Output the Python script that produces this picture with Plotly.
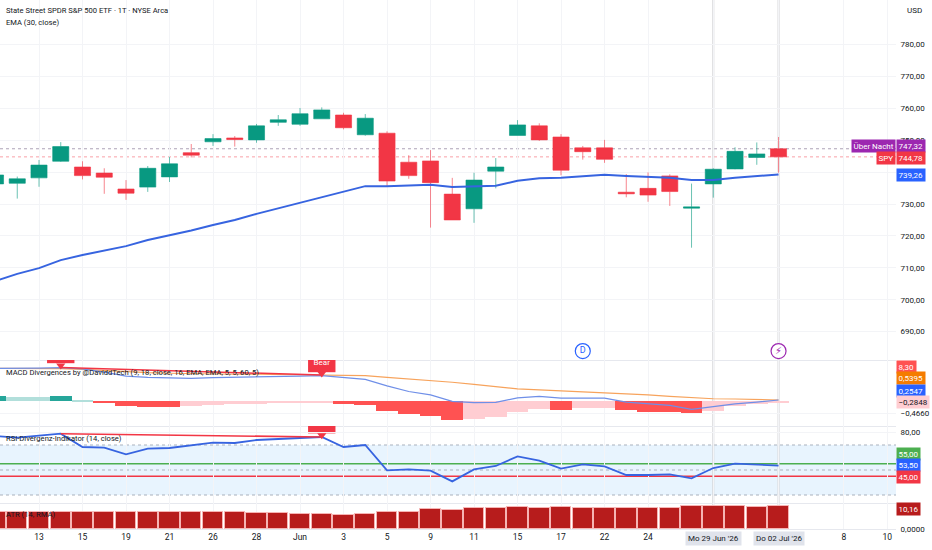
import plotly.graph_objects as go
from plotly.subplots import make_subplots

# trading day index, 0 = 13 May
bars = list(range(-2, 35))

opens = [736.3, 736.5, 738.2, 743.4, 741.6, 739.7, 734.7, 735.3, 738.5, 746.1, 749.5, 750.7, 750.1,
         755.6, 755.0, 756.7, 757.9, 751.7, 752.2, 743.1, 743.5, 733.1, 728.5, 740.3, 751.5, 754.5,
         751.0, 747.6, 747.6, 733.7, 734.9, 738.8, 728.7, 736.3, 741.0, 744.6, 747.32]
highs = [740.0, 738.6, 743.8, 749.4, 743.4, 741.2, 737.5, 741.9, 744.8, 748.8, 751.9, 751.3, 755.1,
         757.9, 760.1, 760.3, 758.6, 758.2, 752.8, 745.3, 746.9, 738.2, 739.8, 744.4, 756.3, 755.3,
         751.9, 748.2, 750.1, 739.4, 739.9, 739.3, 736.4, 741.2, 747.8, 749.3, 751.0]
lows = [735.4, 731.7, 735.4, 743.2, 737.7, 733.2, 731.3, 733.8, 736.9, 744.6, 748.2, 748.0, 749.2,
        754.5, 754.5, 756.7, 753.4, 751.4, 735.4, 737.9, 722.6, 725.0, 724.1, 734.9, 751.5, 749.8,
        739.0, 743.9, 742.9, 732.1, 730.7, 729.4, 716.3, 732.0, 740.9, 742.3, 739.8]
closes = [739.1, 737.9, 742.2, 748.0, 738.9, 738.4, 733.4, 741.2, 742.6, 745.3, 750.5, 750.2, 754.5,
          756.4, 758.3, 759.5, 753.9, 756.9, 737.2, 738.9, 736.7, 725.0, 737.5, 741.6, 754.8, 750.1,
          740.6, 746.4, 744.0, 733.2, 732.8, 733.9, 729.1, 740.9, 746.5, 745.7, 744.78]
ema_30 = [705.9, 708.1, 709.9, 712.4, 714.0, 715.3, 716.8, 718.7, 720.1, 721.7, 723.4, 725.0, 726.9,
          728.6, 730.3, 732.2, 733.8, 735.6, 735.6, 735.8, 736.0, 735.3, 735.6, 735.7, 737.3, 738.1,
          738.2, 738.8, 739.2, 738.8, 738.4, 738.2, 737.5, 737.5, 738.2, 738.7, 739.26]

macd_hist = [0.21, 0.18, 0.17, 0.19, 0.07, -0.06, -0.18, -0.21, -0.22, -0.19, -0.14, -0.12, -0.09,
             -0.06, -0.05, -0.04, -0.10, -0.13, -0.38, -0.48, -0.58, -0.73, -0.69, -0.59, -0.41, -0.30,
             -0.32, -0.27, -0.26, -0.35, -0.40, -0.41, -0.45, -0.36, -0.19, -0.10, -0.04]
macd_line = [1.28, 1.28, 1.29, 1.31, 1.26, 1.13, 0.98, 0.93, 0.91, 0.89, 0.92, 0.93, 0.96,
             0.96, 0.98, 1.00, 0.93, 0.85, 0.60, 0.38, 0.25, 0.0, -0.05, -0.04, 0.13, 0.19,
             0.12, 0.12, 0.12, -0.03, -0.10, -0.16, -0.31, -0.21, -0.10, -0.03, 0.05]
macd_signal = [1.28, 1.28, 1.28, 1.27, 1.24, 1.19, 1.14, 1.11, 1.09, 1.07, 1.06, 1.05, 1.05,
               1.04, 1.04, 1.04, 1.02, 1.00, 0.93, 0.87, 0.82, 0.74, 0.66, 0.56, 0.48, 0.44,
               0.40, 0.36, 0.34, 0.29, 0.25, 0.19, 0.14, 0.10, 0.09, 0.06, 0.05]

rsi = [77.2, 75.9, 77.5, 79.1, 68.4, 67.9, 62.5, 67.1, 67.6, 69.5, 71.9, 71.6, 74.0,
       74.8, 75.9, 76.4, 68.4, 70.0, 49.7, 50.5, 49.5, 40.9, 50.5, 53.2, 60.9, 57.5,
       51.1, 54.5, 52.9, 46.0, 46.0, 46.5, 43.3, 51.6, 55.1, 54.5, 53.5]

atr = [7.62, 7.62, 7.62, 7.62, 7.62, 7.62, 7.62, 7.62, 7.62, 7.62, 7.62, 7.47, 7.17,
       7.03, 6.73, 6.73, 6.43, 6.88, 7.62, 7.62, 8.82, 8.67, 9.42, 9.27, 9.72, 9.42,
       9.87, 9.27, 9.42, 9.42, 9.42, 9.42, 10.16, 10.46, 10.16, 9.72, 10.16]

# bear divergence runs from pivot to pivot
div_pivots = [1, 13]
macd_pivot_vals = [1.31, 1.02]
rsi_pivot_vals = [79.1, 76.4]

price_ticks = [690, 700, 710, 720, 730, 740, 750, 760, 770, 780]
tick_days = [0, 2, 4, 6, 8, 10, 12, 14, 16, 18, 20, 22, 24, 26, 28, 31, 34, 37, 39]
tick_labels = ['13', '15', '19', '21', '26', '28', 'Jun', '3', '5', '9', '11', '15', '17', '22', '24',
               '', '', '8', '10']
cursor_days = [31, 34]
cursor_labels = ["Mo 29 Jun '26", "Do 02 Jul '26"]

overnight_price = 747.32
rsi_bands = [70, 50, 30]

GREEN = '#089981'
RED = '#f23645'
BLUE = '#2962ff'
GRID = '#f3f4f7'
TEXT = '#131722'
FONT = 'Roboto'

WIDTH, HEIGHT = 932, 550
PLOT_H = 529

fig = make_subplots(rows=4, cols=1, shared_xaxes=True, vertical_spacing=0,
                    row_heights=[360, 66, 77, 26])

# price pane
fig.add_trace(go.Candlestick(x=bars, open=opens, high=highs, low=lows, close=closes,
                             increasing=dict(line=dict(color='rgba(8,153,129,0.6)', width=1), fillcolor=GREEN),
                             decreasing=dict(line=dict(color='rgba(242,54,69,0.6)', width=1), fillcolor=RED),
                             whiskerwidth=0), row=1, col=1)
fig.add_trace(go.Scatter(x=bars, y=ema_30, mode='lines', line=dict(color='#3764e0', width=2)),
              row=1, col=1)
fig.add_hline(y=overnight_price, line=dict(color='rgba(110,90,125,0.7)', width=0.8, dash='dot'),
              layer='below', row=1, col=1)
fig.add_hline(y=closes[-1], line=dict(color='rgba(242,54,69,0.6)', width=0.8, dash='dot'),
              layer='below', row=1, col=1)

# event markers under the candles
event_y = 683.9
fig.add_trace(go.Scatter(x=[25], y=[event_y], mode='markers+text', text=['D'],
                         textposition='middle center', textfont=dict(color=BLUE, size=9, family=FONT),
                         marker=dict(size=15, color='white', line=dict(color=BLUE, width=1.2))),
              row=1, col=1)
fig.add_trace(go.Scatter(x=[34], y=[event_y], mode='markers+text', text=['\u26a1'],
                         textposition='middle center', textfont=dict(color='#9c27b0', size=10, family='DejaVu Sans'),
                         marker=dict(size=15, color='white', line=dict(color='#9c27b0', width=1.2))),
              row=1, col=1)

# MACD pane
prev = [0] + macd_hist[:-1]
hist_colors = []
for h, p in zip(macd_hist, prev):
    if h >= 0:
        hist_colors.append('#26a69a' if h > p else '#b2dfdb')
    else:
        hist_colors.append('#ff5252' if h < p else '#ffcdd2')
fig.add_trace(go.Bar(x=bars, y=macd_hist, marker=dict(color=hist_colors, line=dict(width=0))), row=2, col=1)
fig.add_trace(go.Scatter(x=bars, y=macd_signal, mode='lines', line=dict(color='#f7a35c', width=1.2)), row=2, col=1)
fig.add_trace(go.Scatter(x=bars, y=macd_line, mode='lines', line=dict(color='#6f8fe8', width=1.2)), row=2, col=1)
fig.add_trace(go.Scatter(x=div_pivots, y=macd_pivot_vals, mode='lines', line=dict(color=RED, width=1.5)),
              row=2, col=1)

# RSI pane
fig.add_trace(go.Scatter(x=bars, y=rsi, mode='lines', line=dict(color='#3764e0', width=1.8)), row=3, col=1)
fig.add_trace(go.Scatter(x=div_pivots, y=rsi_pivot_vals, mode='lines', line=dict(color=RED, width=1.5)),
              row=3, col=1)
fig.add_hrect(y0=rsi_bands[2], y1=rsi_bands[0], fillcolor='rgba(33,150,243,0.1)', line_width=0,
              layer='below', row=3, col=1)
for level in rsi_bands:
    fig.add_hline(y=level, line=dict(color='#a9b1bd', width=1, dash='dot'), layer='below', row=3, col=1)
fig.add_hline(y=55, line=dict(color='#4caf50', width=1.3), layer='below', row=3, col=1)
fig.add_hline(y=45, line=dict(color=RED, width=1.3), layer='below', row=3, col=1)

# ATR pane
fig.add_trace(go.Bar(x=bars, y=atr, width=0.94, marker=dict(color='#b71c1c', line=dict(color='#f6b4b4', width=1))),
              row=4, col=1)


# bear flags, clipped by the top of their pane like in the reference
def bear_flag(day, val, box_low, box_high, row, label):
    yref = 'y%d' % row
    fig.add_shape(type='rect', xref='x%d' % row, yref=yref, x0=day - 0.63, x1=day + 0.63,
                  y0=box_low, y1=box_high, fillcolor=RED, line_width=0, layer='below')
    fig.add_trace(go.Scatter(x=[day], y=[(val + box_low) / 2], mode='markers',
                             marker=dict(symbol='triangle-down', size=8, color=RED)), row=row, col=1)
    if label:
        fig.add_trace(go.Scatter(x=[day], y=[box_low + (box_high - box_low) * 0.48], mode='text', text=['Bear'],
                                 textfont=dict(color='white', size=8, family=FONT), cliponaxis=True),
                      row=row, col=1)


bear_flag(div_pivots[0], macd_pivot_vals[0], 1.48, 2.2, 2, False)
bear_flag(div_pivots[1], macd_pivot_vals[1], 1.13, 1.9, 2, True)
bear_flag(div_pivots[1], rsi_pivot_vals[1], 79.3, 90, 3, False)

for d in cursor_days:
    fig.add_shape(type='line', xref='x', yref='paper', x0=d, x1=d, y0=0, y1=1,
                  line=dict(color='#d5d5d8', width=2), layer='below')


# labels on the price scale
def chip(y_px, text, bg, fg='white', right=False):
    fig.add_annotation(xref='paper', yref='paper', x=1, y=1 - y_px / PLOT_H, text=text, showarrow=False,
                       xanchor='right' if right else 'left', yanchor='middle',
                       bgcolor=bg, borderpad=1.5, font=dict(color=fg, size=8, family=FONT))


chip(146, '747,32', '#9c27b0')
chip(146, 'Über Nacht', '#9c27b0', right=True)
chip(157.7, '744,78', RED)
chip(157.7, 'SPY', RED, right=True)
chip(175.3, '739,26', BLUE)
chip(366.7, '8,30', '#ff5252')
chip(378.3, '0,5395', '#f57c00')
chip(390.7, '0,2547', BLUE)
chip(402, '\u22120,2848', '#ffcdd2', fg=TEXT)
chip(453.7, '55,00', '#4caf50')
chip(465, '53,50', BLUE)
chip(477, '45,00', RED)
chip(508.5, '10,16', '#b71c1c')

for d, label in zip(cursor_days, cursor_labels):
    fig.add_annotation(xref='x4', yref='paper', x=d, y=0, yshift=-2, text=label, showarrow=False,
                       yanchor='top', bgcolor='#e0e3eb', borderpad=2, font=dict(color=TEXT, size=8, family=FONT))

# pane titles
pane_titles = [(11, 'State Street SPDR S&P 500 ETF · 1T · NYSE Arca'),
               (22.5, 'EMA (30, close)'),
               (372, 'MACD Divergences by @DaviddTech (9, 18, close, 16, EMA, EMA, 5, 5, 60, 5)'),
               (438, 'RSI-Divergenz-Indikator (14, close)'),
               (514, 'ATR (14, RMA)')]
for y_px, title in pane_titles:
    fig.add_annotation(xref='paper', yref='paper', x=0, xshift=4, y=1 - y_px / PLOT_H, text=title,
                       showarrow=False, xanchor='left', yanchor='middle',
                       font=dict(color=TEXT, size=7.6, family=FONT))
fig.add_annotation(xref='paper', yref='paper', x=1, xshift=9, y=1 - 11 / PLOT_H, text='USD', showarrow=False,
                   xanchor='left', yanchor='middle', font=dict(color=TEXT, size=8, family=FONT))

fig.update_xaxes(range=[-1.793, 39.4], tickmode='array', tickvals=tick_days, ticktext=tick_labels,
                 showgrid=True, gridcolor=GRID, gridwidth=1, zeroline=False, showline=True,
                 linecolor='#e6e8ee', linewidth=1, ticks='', rangeslider_visible=False,
                 tickfont=dict(color=TEXT, size=8.5, family=FONT))
y_common = dict(side='right', showgrid=True, gridcolor=GRID, zeroline=False, ticks='outside', ticklen=2,
                tickcolor='rgba(0,0,0,0)', automargin=False, tickfont=dict(color=TEXT, size=8, family=FONT))
fig.update_yaxes(range=[681.1, 793.95], tickmode='array', tickvals=price_ticks, tickformat='.2f',
                 row=1, col=1, **y_common)
fig.update_yaxes(range=[-0.959, 1.604], tickmode='array', tickvals=[-0.466], tickformat='.4f',
                 row=2, col=1, **y_common)
fig.update_yaxes(range=[23.6, 85.2], tickmode='array', tickvals=[80], tickformat='.2f',
                 row=3, col=1, **y_common)
fig.update_yaxes(range=[0, 11.66], tickmode='array', tickvals=[0], tickformat='.4f',
                 row=4, col=1, **y_common)

fig.update_layout(width=WIDTH, height=HEIGHT, showlegend=False, paper_bgcolor='white', plot_bgcolor='white',
                  margin=dict(l=0, r=36, t=0, b=21), bargap=0, boxgap=0.26, boxgroupgap=0, separators=', ')

# the default page margin would shift the chart by 8px
fig.write_html("out.html", config={'displayModeBar': False}, post_script="document.body.style.margin = '0';")
